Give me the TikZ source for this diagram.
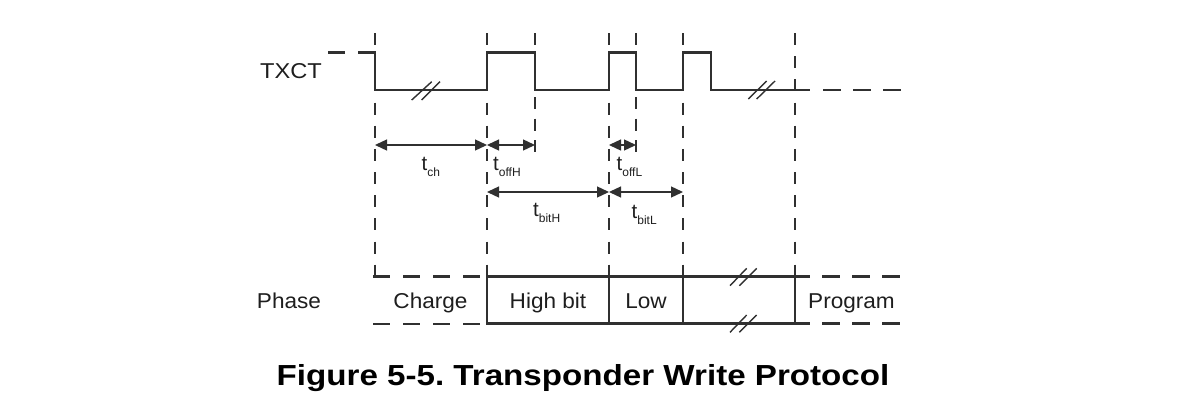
\documentclass[tikz,border=0pt]{standalone}
\usepackage{fontspec}
\setmainfont{Liberation Sans}
\usetikzlibrary{arrows.meta}
\definecolor{ln}{HTML}{303030}
\definecolor{tx}{HTML}{1e1e1e}
\frenchspacing
\tikzset{
  sig/.style={draw=ln, line width=2.6pt, line join=miter},
  vline/.style={draw=ln, line width=1.3pt, dash pattern=on 12pt off 11.17pt},
  vshort/.style={draw=ln, line width=1.3pt, dash pattern=on 12pt off 9.4pt},
  hdash/.style={draw=ln, line width=2.6pt, dash pattern=on 17pt off 13pt},
  boxline/.style={draw=ln, line width=2.6pt},
  brk/.style={draw=ln, line width=1.4pt},
  dim/.style={draw=ln, line width=1.3pt, {Triangle[length=12pt,width=11pt]}-{Triangle[length=12pt,width=11pt]}},
  lbl/.style={inner sep=0pt, anchor=base, text=tx, font=\fontsize{21.5}{24}\selectfont},
  tlbl/.style={inner sep=0pt, anchor=base west, text=tx},
}
\newcommand{\tsub}[1]{{\fontsize{20.5}{22}\selectfont t}\raisebox{-6pt}{\fontsize{12}{14}\selectfont #1}}
\begin{document}
\begin{tikzpicture}[x=1pt,y=-1pt]
\useasboundingbox (0,0) rectangle (1199,407);
% vertical dashed guides
\draw[vline] (375,33) -- (375,276.7);
\draw[vline] (487,33) -- (487,276.7);
\draw[vshort] (535,33) -- (535,152);
\draw[vline] (609,33) -- (609,276.7);
\draw[vshort] (636,33) -- (636,152);
\draw[vline] (683,33) -- (683,276.7);
\draw[vline] (795,33) -- (795,276.7);
% TXCT signal
\draw[sig] (328,52.7) -- (345,52.7);
\draw[sig] (358,52.7) -- (375,52.7) -- (375,90) -- (487,90) -- (487,52.7) -- (535,52.7) -- (535,90)
  -- (609,90) -- (609,52.7) -- (636,52.7) -- (636,90) -- (683,90) -- (683,52.7) -- (711,52.7)
  -- (711,90) -- (810,90);
\draw[sig, dash pattern=on 18pt off 12pt] (823,90) -- (902,90);
% signal breaks
\draw[brk] (411.7,100) -- (431.7,81.7);
\draw[brk] (421.7,100) -- (440,81.7);
\draw[brk] (748.3,99) -- (766.7,81);
\draw[brk] (756.7,99) -- (775,81);
\node[lbl] (txct) at (291,78.3) {\scalebox{1.1}[1]{TXCT}};
% dimension arrows
\coordinate (c1) at (375,145);
\coordinate (c2) at (487,145);
\coordinate (c3) at (535,145);
\coordinate (c4) at (609,145);
\coordinate (c5) at (636,145);
\coordinate (d1) at (487,192);
\coordinate (d2) at (609,192);
\coordinate (d3) at (683,192);
\draw[dim] (c1) -- (c2);
\draw[dim] (c2) -- (c3);
\draw[dim] (c4) -- (c5);
\draw[dim] (d1) -- (d2);
\draw[dim] (d2) -- (d3);
\node[tlbl] (tch) at (421.5,170.7) {\tsub{ch}};
\node[tlbl] (toffh) at (493,170.7) {\tsub{offH}};
\node[tlbl] (toffl) at (616.5,170) {\tsub{offL}};
\node[tlbl] (tbith) at (533,216.7) {\tsub{bitH}};
\node[tlbl] (tbitl) at (631.5,218.3) {\tsub{bitL}};
% phase row
\draw[hdash] (373,276.7) -- (481,276.7);
\draw[hdash] (373,324) -- (481,324);
\draw[boxline] (487,276.7) rectangle (795,323.5);
\draw[boxline] (609,276.7) -- (609,323.5);
\draw[boxline] (683,276.7) -- (683,323.5);
\draw[hdash, dash pattern=on 18pt off 12pt] (792,276.7) -- (902,276.7);
\draw[hdash, dash pattern=on 18pt off 12pt] (792,323.5) -- (902,323.5);
\draw[brk] (730,285.7) -- (746.7,268.3);
\draw[brk] (739.3,285.7) -- (756.7,268.3);
\draw[brk] (730,332.3) -- (746.7,315);
\draw[brk] (739.3,332.3) -- (756.7,315);
\node[lbl] (phase) at (289,308.3) {\scalebox{1.05}[1]{Phase}};
\node[lbl] (charge) at (430.5,308.3) {\scalebox{1.05}[1]{Charge}};
\node[lbl] (high) at (548,308.3) {\scalebox{1.05}[1]{High bit}};
\node[lbl] (low) at (646,308.3) {\scalebox{1.05}[1]{Low}};
\node[lbl] (prog) at (851.5,308.3) {\scalebox{1.05}[1]{Program}};
% caption
\node[inner sep=0pt, anchor=base, font=\bfseries\fontsize{29}{32}\selectfont] (cap) at (583,385.7)
  {\scalebox{1.143}[1]{Figure 5-5. Transponder Write Protocol}};
\end{tikzpicture}
\end{document}
